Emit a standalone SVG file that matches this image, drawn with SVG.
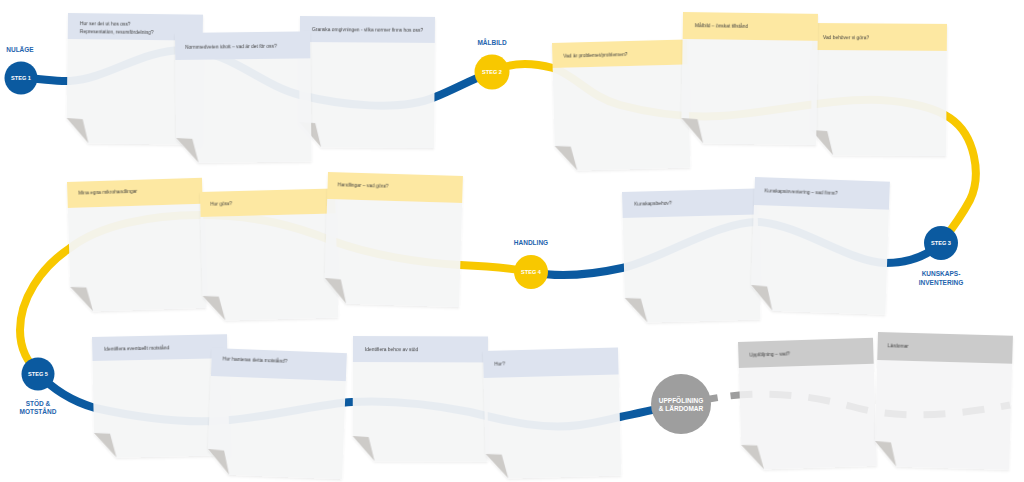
<svg xmlns="http://www.w3.org/2000/svg" width="1024" height="482" viewBox="0 0 1024 482">
<defs>
<style>
.body{fill:#f4f5f6;fill-opacity:0.94}
.bodyg{fill:#f4f5f6;fill-opacity:0.86}
.hb{fill:#dde3ef}
.hy{fill:#fde8a2}
.hg{fill:#cbcbcb}
.curl{fill:#cdcbc8}
.nt{font-family:"Liberation Sans",Arial,sans-serif;font-size:4.9px;fill:#3c3c3c}
.st{font-family:"Liberation Sans",Arial,sans-serif;font-weight:bold;font-size:5.6px;fill:#ffffff;text-anchor:middle}
.lab{font-family:"Liberation Sans",Arial,sans-serif;font-weight:bold;font-size:6.5px;fill:#1e64ad;text-anchor:middle}
.cb{stroke:#0b5aa0}
.cy{stroke:#f8c800}
.cg{stroke:#9e9e9e}
</style>
<filter id="sh" x="-10%" y="-10%" width="120%" height="125%">
<feDropShadow dx="0" dy="1.5" stdDeviation="1.2" flood-color="#000" flood-opacity="0.08"/>
</filter>
</defs>
<rect width="1024" height="482" fill="#ffffff"/>

<g id="connectors" fill="none" stroke-width="8">
<path class="cb" d="M20,78 C40,78 55,82 70,81 C110,78 140,50 185,50 C230,50 260,85 300,95 C340,105 400,112 435,97 C455,89 470,80 492,72"/>
<path class="cy" d="M492,72 C510,62 530,62 553,68 C575,75 590,97 620,105 C650,113 680,118 720,116 C770,113 830,98 880,100 C915,102 935,108 950,118 C975,135 982,175 970,200 C962,215 955,225 941,243"/>
<path class="cb" d="M941,243 C925,258 905,263 885,263 C850,262 800,225 760,222 C720,220 660,260 622,268 C590,275 560,278 531,272"/>
<path class="cy" d="M531,272 C510,268 485,266 460,265 C420,263 370,255 330,240 C300,228 260,215 200,215 C150,215 100,225 70,248 C40,268 20,300 20,330 C20,350 28,362 38,373"/>
<path class="cb" d="M38,373 C55,392 75,402 95,408 C140,418 190,424 230,420 C280,415 320,404 352,402 C390,400 430,404 470,412 C510,422 545,430 580,425 C600,422 610,419 620,417 C640,413 660,408 681,404"/>
<path class="cg" stroke-width="7" stroke-dasharray="18 13 22 17 22 17 22 17 22 17 22 17 22 17 22 17 22 17 22 17 22 17" d="M700,401 C740,392 790,390 850,406 C890,418 940,418 1010,405"/>
</g>

<g id="note-a" transform="translate(68,13) rotate(0.7)" filter="url(#sh)">
<path class="body" d="M0,0H135V130H22L0,105Z"/>
<rect class="hb" width="135" height="26"/>
<path class="curl" d="M0,105L16,106L22,130Z"/>
<text class="nt" x="12" y="12">Hur ser det ut hos oss?</text>
<text class="nt" x="12" y="20">Representation, resursfördelning?</text>
</g>
<g id="note-c" transform="translate(300,16) rotate(0.4)" filter="url(#sh)">
<path class="body" d="M0,0H135V131H22L0,106Z"/>
<rect class="hb" width="135" height="26"/>
<path class="curl" d="M0,106L16,107L22,131Z"/>
<text class="nt" x="12" y="15">Granska omgivningen - vilka normer finns hos oss?</text>
</g>
<g id="note-b" transform="translate(175,33) rotate(-0.7)" filter="url(#sh)">
<path class="body" d="M0,0H135V130H22L0,105Z"/>
<rect class="hb" width="135" height="27"/>
<path class="curl" d="M0,105L16,106L22,130Z"/>
<text class="nt" x="10" y="16">Normmedveten idrott – vad är det för oss?</text>
</g>

<g id="note-d" transform="translate(552,43) rotate(-1.5)" filter="url(#sh)">
<path class="body" d="M0,0H135V128H22L0,103Z"/>
<rect class="hy" width="135" height="25"/>
<path class="curl" d="M0,103L16,104L22,128Z"/>
<text class="nt" x="11" y="15">Vad är problemet/problemen?</text>
</g>
<g id="note-f" transform="translate(812,23) rotate(0.4)" filter="url(#sh)">
<path class="body" d="M0,0H135V132H22L0,107Z"/>
<rect class="hy" width="135" height="27"/>
<path class="curl" d="M0,107L16,108L22,132Z"/>
<text class="nt" x="11" y="16">Vad behöver vi göra?</text>
</g>
<g id="note-e" transform="translate(683,12) rotate(0.8)" filter="url(#sh)">
<path class="body" d="M0,0H135V131H22L0,106Z"/>
<rect class="hy" width="135" height="27"/>
<path class="curl" d="M0,106L16,107L22,131Z"/>
<text class="nt" x="12" y="15">Målbild – önskat tillstånd</text>
</g>

<g id="note-g" transform="translate(622,192) rotate(-1.5)" filter="url(#sh)">
<path class="body" d="M0,0H135V131H22L0,106Z"/>
<rect class="hb" width="135" height="26"/>
<path class="curl" d="M0,106L16,107L22,131Z"/>
<text class="nt" x="12" y="14">Kunskapsbehov?</text>
</g>
<g id="note-h" transform="translate(755,177) rotate(2)" filter="url(#sh)">
<path class="body" d="M0,0H135V133H22L0,108Z"/>
<rect class="hb" width="135" height="28"/>
<path class="curl" d="M0,108L16,109L22,133Z"/>
<text class="nt" x="10" y="15">Kunskapsinventering – vad finns?</text>
</g>

<g id="note-i" transform="translate(67,182) rotate(-1.8)" filter="url(#sh)">
<path class="body" d="M0,0H135V130H22L0,105Z"/>
<rect class="hy" width="135" height="26"/>
<path class="curl" d="M0,105L16,106L22,130Z"/>
<text class="nt" x="11" y="13">Mina egna mikrohandlingar</text>
</g>
<g id="note-j" transform="translate(200,192) rotate(-1.5)" filter="url(#sh)">
<path class="body" d="M0,0H135V129H22L0,104Z"/>
<rect class="hy" width="135" height="25"/>
<path class="curl" d="M0,104L16,105L22,129Z"/>
<text class="nt" x="10" y="14">Hur göra?</text>
</g>
<g id="note-k" transform="translate(328,172) rotate(1.7)" filter="url(#sh)">
<path class="body" d="M0,0H135V131H22L0,106Z"/>
<rect class="hy" width="135" height="27"/>
<path class="curl" d="M0,106L16,107L22,131Z"/>
<text class="nt" x="10" y="14">Handlingar – vad göra?</text>
</g>

<g id="note-l" transform="translate(92,337) rotate(-1.2)" filter="url(#sh)">
<path class="body" d="M0,0H135V121H22L0,96Z"/>
<rect class="hb" width="135" height="24"/>
<path class="curl" d="M0,96L16,97L22,121Z"/>
<text class="nt" x="12" y="14">Identifiera eventuellt motstånd</text>
</g>
<g id="note-m" transform="translate(212,348) rotate(2.2)" filter="url(#sh)">
<path class="body" d="M0,0H135V126H22L0,101Z"/>
<rect class="hb" width="135" height="28"/>
<path class="curl" d="M0,101L16,102L22,126Z"/>
<text class="nt" x="11" y="12">Hur hanteras detta motstånd?</text>
</g>
<g id="note-n" transform="translate(353,336) rotate(0.2)" filter="url(#sh)">
<path class="body" d="M0,0H135V125H22L0,100Z"/>
<rect class="hb" width="135" height="26"/>
<path class="curl" d="M0,100L16,101L22,125Z"/>
<text class="nt" x="12" y="15">Identifiera behov av stöd</text>
</g>
<g id="note-o" transform="translate(483,351) rotate(-1.5)" filter="url(#sh)">
<path class="body" d="M0,0H135V128H22L0,103Z"/>
<rect class="hb" width="135" height="27"/>
<path class="curl" d="M0,103L16,104L22,128Z"/>
<text class="nt" x="11" y="15">Hur?</text>
</g>

<g id="note-p" transform="translate(738,342) rotate(-1.8)" filter="url(#sh)">
<path class="bodyg" d="M0,0H135V128H22L0,103Z"/>
<rect class="hg" width="135" height="26"/>
<path class="curl" d="M0,103L16,104L22,128Z"/>
<text class="nt" x="11" y="15">Uppföljning – vad?</text>
</g>
<g id="note-q" transform="translate(878,332) rotate(1.6)" filter="url(#sh)">
<path class="bodyg" d="M0,0H135V134H22L0,109Z"/>
<rect class="hg" width="135" height="28"/>
<path class="curl" d="M0,109L16,110L22,134Z"/>
<text class="nt" x="10" y="15">Lärdomar</text>
</g>

<g id="step-1">
<text class="lab" x="20" y="52">NULÄGE</text>
<circle cx="21" cy="78" r="16.5" fill="#0b5aa0"/>
<text class="st" x="21" y="80">STEG 1</text>
</g>
<g id="step-2">
<text class="lab" x="492" y="45">MÅLBILD</text>
<circle cx="492" cy="72" r="17.5" fill="#f8c800"/>
<text class="st" x="492" y="74">STEG 2</text>
</g>
<g id="step-3">
<circle cx="941" cy="243" r="17" fill="#0b5aa0"/>
<text class="st" x="941" y="245">STEG 3</text>
<text class="lab" x="941" y="275.5">KUNSKAPS-</text>
<text class="lab" x="941" y="284.5">INVENTERING</text>
</g>
<g id="step-4">
<text class="lab" x="531" y="244.5">HANDLING</text>
<circle cx="531" cy="272" r="17" fill="#f8c800"/>
<text class="st" x="531" y="274">STEG 4</text>
</g>
<g id="step-5">
<circle cx="38" cy="374" r="16.5" fill="#0b5aa0"/>
<text class="st" x="38" y="376">STEG 5</text>
<text class="lab" x="38" y="405.5">STÖD &amp;</text>
<text class="lab" x="38" y="414">MOTSTÅND</text>
</g>
<g id="uppfoljning">
<circle cx="681" cy="404" r="30" fill="#9e9e9e"/>
<text class="st" style="font-size:6.5px" x="681" y="402.5">UPPFÖLINING</text>
<text class="st" style="font-size:6.5px" x="681" y="410.5">&amp; LÄRDOMAR</text>
</g>
</svg>
